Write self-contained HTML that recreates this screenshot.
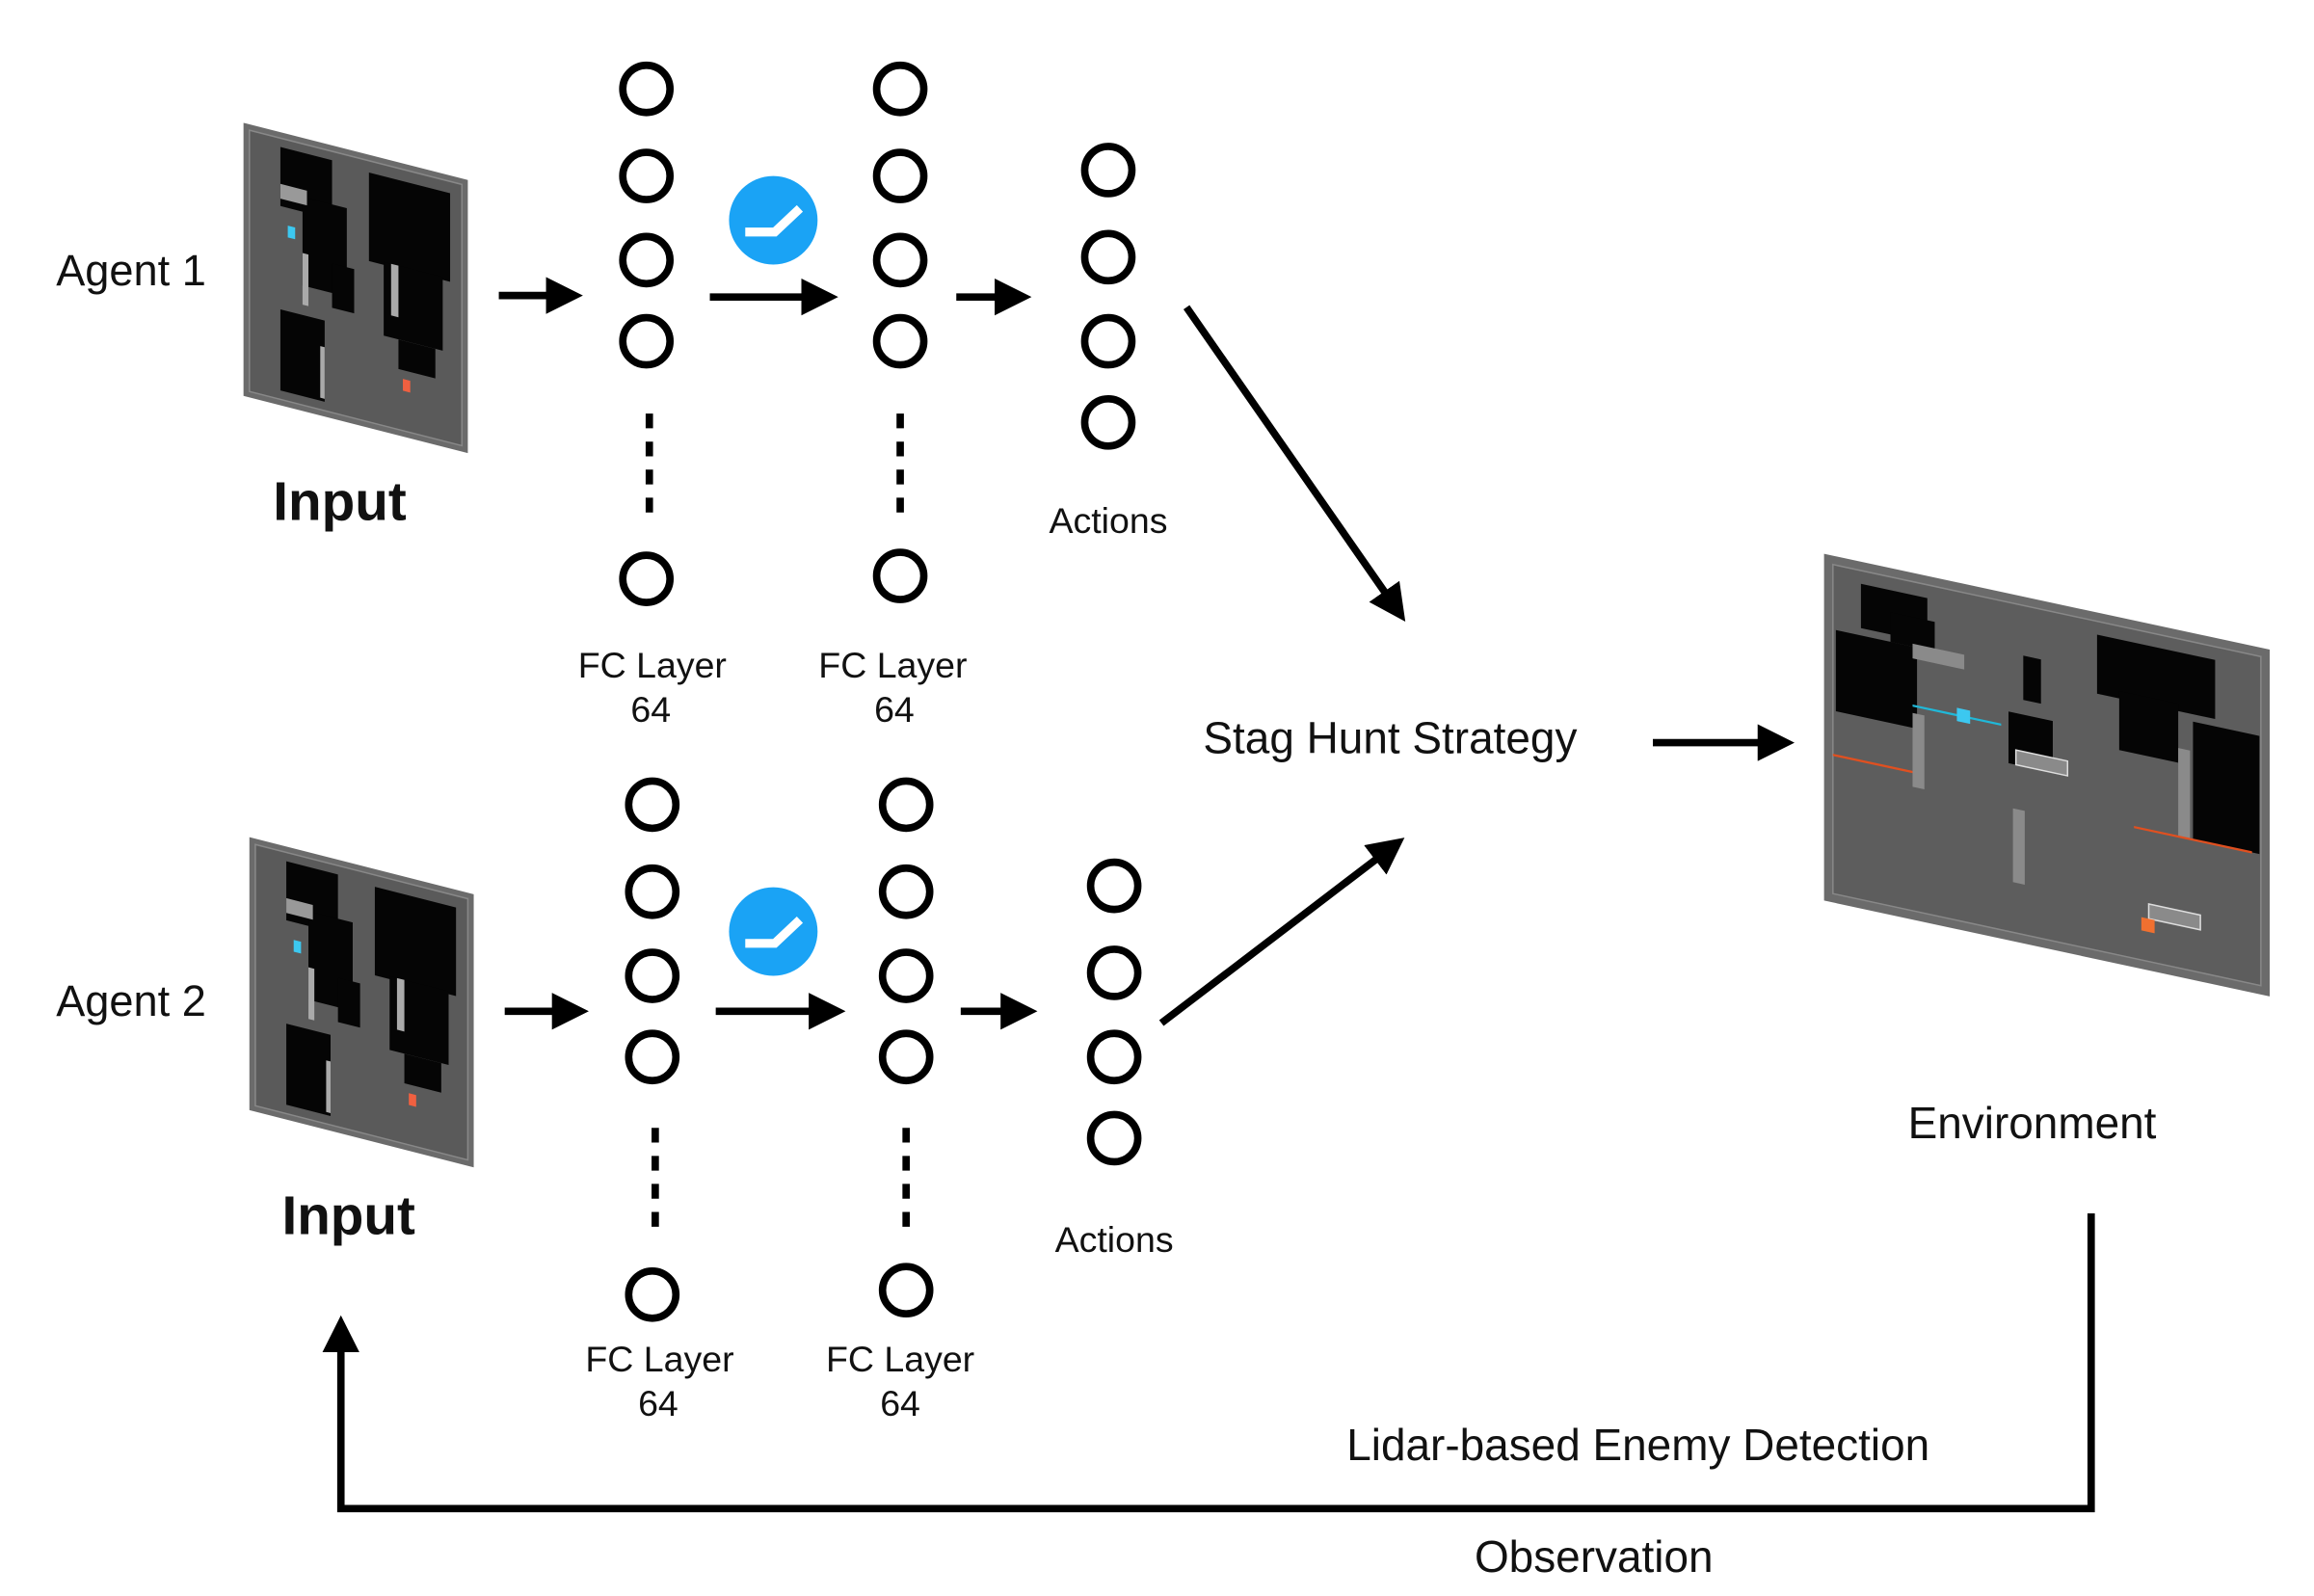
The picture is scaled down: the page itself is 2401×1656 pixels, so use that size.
<!DOCTYPE html>
<html><head><meta charset="utf-8"><style>
html,body{margin:0;padding:0;background:#fff;}
svg{display:block;}
text{font-family:"Liberation Sans",sans-serif;fill:#111;}
</style></head><body>
<svg width="2401" height="1656" viewBox="0 0 1568 1081" xmlns="http://www.w3.org/2000/svg">
<defs>
<marker id="ah" markerWidth="5" markerHeight="5" refX="2.8" refY="2.5" orient="auto" markerUnits="strokeWidth">
<path d="M0,0 L5,2.5 L0,5 z" fill="#000"/></marker>
<g id="map">
<rect x="0" y="0" width="152" height="185" fill="#6b6b6b"/>
<rect x="4" y="4" width="144" height="177" fill="#5a5a5a" stroke="#888" stroke-width="1"/>
<rect x="25" y="10" width="35" height="40" fill="#050505"/>
<rect x="40" y="40" width="30" height="60" fill="#050505"/>
<rect x="60" y="80" width="15" height="30" fill="#050505"/>
<rect x="85" y="12" width="55" height="60" fill="#050505"/>
<rect x="95" y="70" width="40" height="50" fill="#050505"/>
<rect x="105" y="120" width="25" height="20" fill="#050505"/>
<rect x="25" y="120" width="30" height="55" fill="#050505"/>
<rect x="25" y="35" width="18" height="10" fill="#999"/>
<rect x="100" y="70" width="5" height="35" fill="#aaa"/>
<rect x="40" y="78" width="4" height="35" fill="#aaa"/>
<rect x="52" y="138" width="3" height="35" fill="#aaa"/>
<rect x="30" y="62" width="5" height="8" fill="#3cc8f0"/>
<rect x="108" y="146" width="5" height="8" fill="#f06040"/>
</g>
<g id="env">
<rect x="0" y="0" width="302" height="235" fill="#6b6b6b"/>
<rect x="6" y="6" width="290" height="223" fill="#5d5d5d" stroke="#888" stroke-width="1"/>
<rect x="25" y="15" width="45" height="30" fill="#050505"/>
<rect x="45" y="30" width="30" height="20" fill="#050505"/>
<rect x="8" y="50" width="55" height="55" fill="#050505"/>
<rect x="135" y="40" width="12" height="30" fill="#050505"/>
<rect x="185" y="15" width="80" height="40" fill="#050505"/>
<rect x="200" y="50" width="40" height="40" fill="#050505"/>
<rect x="125" y="80" width="30" height="35" fill="#050505"/>
<rect x="250" y="60" width="45" height="80" fill="#050505"/>
<rect x="60" y="48" width="35" height="10" fill="#8a8a8a"/>
<rect x="130" y="105" width="35" height="10" fill="#8a8a8a" stroke="#ddd" stroke-width="1"/>
<rect x="60" y="95" width="8" height="50" fill="#8a8a8a"/>
<rect x="240" y="80" width="8" height="60" fill="#8a8a8a"/>
<rect x="128" y="145" width="8" height="50" fill="#8a8a8a"/>
<rect x="220" y="190" width="35" height="10" fill="#8a8a8a" stroke="#ddd" stroke-width="1"/>
<line x1="6" y1="135" x2="60" y2="135" stroke="#e05020" stroke-width="1.5"/>
<line x1="210" y1="140" x2="290" y2="140" stroke="#e05020" stroke-width="1.5"/>
<line x1="60" y1="90" x2="120" y2="90" stroke="#20b8d8" stroke-width="1.5"/>
<rect x="90" y="85" width="9" height="9" fill="#3cc8f0"/>
<rect x="215" y="200" width="9" height="9" fill="#f07030"/>
</g>
</defs>

<!-- Agent 1 -->
<text x="38" y="193" font-size="29.5">Agent 1</text>
<use href="#map" transform="matrix(1,0.255,0,1,165,83)"/>
<text x="185" y="352" font-size="37" font-weight="bold">Input</text>
<g stroke="#000" stroke-width="5" fill="none">
<line x1="338" y1="200" x2="384" y2="200" marker-end="url(#ah)"/>
<line x1="481" y1="201" x2="557" y2="201" marker-end="url(#ah)"/>
<line x1="648" y1="201" x2="688" y2="201" marker-end="url(#ah)"/>
<circle cx="438" cy="60" r="16"/><circle cx="438" cy="119" r="16"/><circle cx="438" cy="176" r="16"/><circle cx="438" cy="231" r="16"/><circle cx="438" cy="392" r="16"/>
<line x1="440" y1="280" x2="440" y2="356" stroke-dasharray="10 9"/>
<circle cx="610" cy="60" r="16"/><circle cx="610" cy="119" r="16"/><circle cx="610" cy="176" r="16"/><circle cx="610" cy="231" r="16"/><circle cx="610" cy="390" r="16"/>
<line x1="610" y1="280" x2="610" y2="356" stroke-dasharray="10 9"/>
<circle cx="751" cy="115" r="16"/><circle cx="751" cy="174" r="16"/><circle cx="751" cy="231" r="16"/><circle cx="751" cy="286" r="16"/>
<line x1="804" y1="208" x2="946" y2="412" marker-end="url(#ah)"/>
</g>
<circle cx="524" cy="149" r="30" fill="#1aa3f5"/>
<path d="M505,157 L525,157 L542,141" stroke="#fff" stroke-width="6" fill="none"/>
<text x="751" y="361" font-size="24.5" text-anchor="middle">Actions</text>
<text x="442" y="459" font-size="24.5" text-anchor="middle">FC Layer</text>
<text x="441" y="489" font-size="24.5" text-anchor="middle">64</text>
<text x="605" y="459" font-size="24.5" text-anchor="middle">FC Layer</text>
<text x="606" y="489" font-size="24.5" text-anchor="middle">64</text>

<text x="942" y="510" font-size="30" text-anchor="middle">Stag Hunt Strategy</text>
<line x1="1120" y1="503" x2="1205" y2="503" stroke="#000" stroke-width="5" marker-end="url(#ah)"/>
<use href="#env" transform="matrix(1,0.215,0,1,1236,375)"/>
<text x="1377" y="771" font-size="30" text-anchor="middle">Environment</text>

<!-- Agent 2 -->
<text x="38" y="688" font-size="29.5">Agent 2</text>
<use href="#map" transform="matrix(1,0.255,0,1,169,567)"/>
<text x="191" y="836" font-size="37" font-weight="bold">Input</text>
<g stroke="#000" stroke-width="5" fill="none">
<line x1="342" y1="685" x2="388" y2="685" marker-end="url(#ah)"/>
<line x1="485" y1="685" x2="562" y2="685" marker-end="url(#ah)"/>
<line x1="651" y1="685" x2="692" y2="685" marker-end="url(#ah)"/>
<circle cx="442" cy="545" r="16"/><circle cx="442" cy="604" r="16"/><circle cx="442" cy="661" r="16"/><circle cx="442" cy="716" r="16"/><circle cx="442" cy="877" r="16"/>
<line x1="444" y1="764" x2="444" y2="840" stroke-dasharray="10 9"/>
<circle cx="614" cy="545" r="16"/><circle cx="614" cy="604" r="16"/><circle cx="614" cy="661" r="16"/><circle cx="614" cy="716" r="16"/><circle cx="614" cy="874" r="16"/>
<line x1="614" y1="764" x2="614" y2="840" stroke-dasharray="10 9"/>
<circle cx="755" cy="600" r="16"/><circle cx="755" cy="659" r="16"/><circle cx="755" cy="716" r="16"/><circle cx="755" cy="771" r="16"/>
<line x1="787" y1="693" x2="943" y2="574" marker-end="url(#ah)"/>
<polyline points="1417,822 1417,1022 231,1022 231,902" marker-end="url(#ah)"/>
</g>
<circle cx="524" cy="631" r="30" fill="#1aa3f5"/>
<path d="M505,639 L525,639 L542,623" stroke="#fff" stroke-width="6" fill="none"/>
<text x="755" y="848" font-size="24.5" text-anchor="middle">Actions</text>
<text x="447" y="929" font-size="24.5" text-anchor="middle">FC Layer</text>
<text x="446" y="959" font-size="24.5" text-anchor="middle">64</text>
<text x="610" y="929" font-size="24.5" text-anchor="middle">FC Layer</text>
<text x="610" y="959" font-size="24.5" text-anchor="middle">64</text>

<text x="1110" y="989" font-size="30" text-anchor="middle">Lidar-based Enemy Detection</text>
<text x="1080" y="1065" font-size="30" text-anchor="middle">Observation</text>
</svg>
</body></html>
